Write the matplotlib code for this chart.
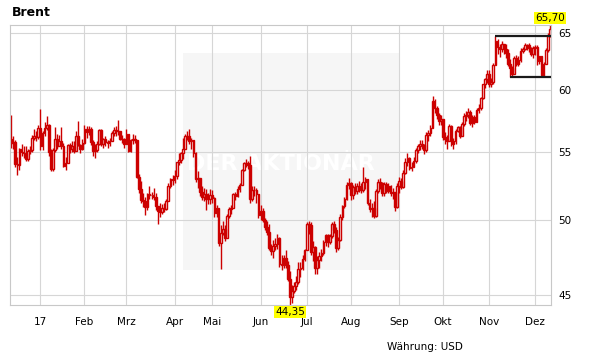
# -*- coding: utf-8 -*-

import numpy as np
import matplotlib.pyplot as plt
from matplotlib.patches import Rectangle


''' --------- Data: Brent, daily candles, 12.12.2016 - 12.12.2017 --------- '''
month_labels = ['', '17', 'Feb', 'Mrz', 'Apr', 'Mai', 'Jun', 'Jul', 'Aug', 'Sep', 'Okt', 'Nov', 'Dez']
days_per_month = [14, 21, 20, 23, 18, 23, 22, 21, 23, 21, 22, 22, 8]   # trading days shown per month

first_open = 56.0
close = [
    55.69, 55.72, 54.02, 53.99, 55.21, 55.00, 54.92, 54.46, 55.05, 55.16, 56.09, 56.22, 56.14, 56.82,  # Dez 16
    55.47, 56.46, 56.89, 57.10, 54.94, 53.64, 55.10, 56.01, 55.45, 55.86, 55.47, 53.92, 54.16, 55.49,
    55.23, 55.44, 55.08, 56.24, 55.52, 55.23, 55.70,                                                    # Jan
    56.80, 56.56, 56.81, 55.72, 55.05, 55.12, 55.63, 56.70, 55.59, 55.97, 55.75, 55.65, 55.81, 56.45,
    56.66, 56.58, 56.58, 55.99, 56.01, 55.59,                                                           # Feb
    56.36, 55.08, 55.90, 56.01, 55.92, 53.11, 52.19, 51.37, 51.35, 50.92, 51.81, 51.76, 51.76, 51.62,
    50.96, 50.64, 50.56, 50.80, 50.75, 51.33, 52.42, 52.96, 52.83,                                      # Mrz
    53.12, 54.17, 54.36, 54.89, 55.24, 56.23, 56.23, 55.86, 55.89, 54.89, 52.93, 52.99, 51.96, 51.60,
    51.82, 51.44, 51.44, 51.73,                                                                         # Apr
    51.52, 50.46, 50.79, 48.38, 49.10, 49.34, 48.73, 50.22, 50.77, 50.84, 51.82, 51.65, 52.21, 52.51,
    53.61, 54.15, 54.15, 53.96, 51.46, 52.15, 52.15, 51.84, 50.31,                                      # Mai
    50.63, 49.95, 49.47, 49.12, 48.06, 47.86, 48.15, 48.29, 48.72, 47.00, 46.92, 47.37, 46.91, 46.02,
    44.82, 45.22, 45.54, 45.83, 46.65, 46.74, 47.31, 47.92,                                             # Jun
    49.67, 49.61, 47.79, 48.11, 46.71, 47.26, 47.52, 47.74, 48.42, 48.91, 48.42, 48.84, 49.70, 49.30,
    48.06, 48.60, 50.20, 50.97, 51.49, 52.52, 52.65,                                                    # Jul
    51.78, 52.36, 52.01, 52.42, 52.37, 52.14, 52.70, 52.90, 51.20, 50.73, 50.80, 50.27, 52.03, 52.72,
    52.66, 51.87, 52.57, 52.04, 52.41, 51.89, 52.00, 50.86, 52.38,                                      # Aug
    52.75, 52.34, 53.38, 54.20, 54.49, 53.78, 53.84, 54.27, 55.16, 55.47, 55.62, 55.48, 55.14, 56.29,
    56.43, 56.86, 59.02, 58.44, 57.90, 57.41, 57.54,                                                    # Sep
    56.12, 56.00, 55.80, 57.00, 55.62, 55.79, 56.61, 56.94, 56.25, 57.17, 57.82, 57.88, 58.15, 57.24,
    57.75, 57.37, 58.33, 58.44, 59.30, 60.44, 60.90, 61.37,                                             # Okt
    60.49, 60.62, 62.07, 64.27, 63.69, 63.49, 63.93, 63.52, 63.16, 62.21, 61.87, 61.36, 62.72, 62.22,
    62.57, 63.32, 63.55, 63.86, 63.84, 63.61, 63.11, 63.57,                                             # Nov
    63.73, 62.45, 62.86, 61.22, 62.20, 63.40, 64.69, 65.30,                                             # Dez
]
high = [
    57.89, 56.20, 55.90, 54.60, 55.30, 55.60, 55.40, 55.40, 55.20, 55.40, 56.30, 56.80, 56.60, 57.10,
    58.37, 56.60, 57.30, 57.80, 57.20, 55.20, 55.30, 56.90, 56.40, 56.30, 56.90, 55.70, 54.60, 55.60,
    55.70, 55.80, 55.80, 56.60, 57.40, 55.60, 56.00,
    57.10, 57.00, 57.00, 56.90, 55.90, 55.60, 55.80, 56.80, 56.80, 56.10, 56.20, 55.90, 56.10, 56.60,
    56.90, 57.00, 57.50, 56.60, 56.30, 56.10,
    56.80, 56.40, 56.00, 56.40, 56.30, 55.90, 53.30, 52.80, 51.90, 51.60, 51.90, 52.40, 52.00, 52.30,
    51.90, 50.90, 51.20, 51.10, 51.20, 51.50, 52.60, 53.00, 53.20,
    53.60, 54.20, 54.90, 55.00, 56.10, 56.40, 56.60, 56.80, 56.10, 55.90, 55.00, 53.50, 53.00, 52.40,
    52.30, 52.20, 51.90, 52.20,
    52.10, 51.60, 51.00, 50.80, 49.60, 49.90, 49.60, 50.40, 50.90, 51.00, 51.90, 52.00, 52.40, 52.60,
    53.70, 54.20, 54.40, 54.30, 54.70, 52.40, 52.40, 52.30, 51.80,
    51.00, 50.80, 50.10, 49.90, 49.70, 48.30, 48.60, 48.70, 49.00, 48.80, 47.60, 47.60, 47.90, 47.20,
    46.50, 45.60, 45.80, 46.20, 47.10, 47.10, 47.60, 48.00,
    49.80, 49.90, 49.80, 48.50, 48.20, 47.50, 47.80, 48.00, 48.60, 49.00, 49.00, 49.00, 49.80, 49.90,
    49.50, 48.80, 50.40, 51.00, 51.60, 52.70, 53.00,
    52.70, 52.50, 52.60, 52.60, 52.80, 52.60, 53.80, 53.10, 52.90, 51.50, 51.20, 51.30, 52.20, 52.90,
    53.00, 52.70, 52.70, 52.70, 52.60, 52.50, 52.30, 52.00, 52.60,
    53.10, 53.00, 53.60, 54.50, 54.90, 54.60, 54.20, 54.60, 55.30, 55.60, 55.90, 55.90, 55.60, 56.50,
    56.70, 57.10, 59.50, 59.20, 58.60, 58.10, 57.90,
    57.60, 56.50, 56.30, 57.20, 57.10, 56.10, 56.80, 57.00, 57.00, 57.30, 58.10, 58.20, 58.50, 58.30,
    57.90, 57.90, 58.50, 58.80, 59.40, 60.50, 61.00, 61.70,
    61.70, 61.00, 62.30, 64.65, 64.40, 64.00, 64.20, 64.00, 64.00, 63.50, 62.60, 62.00, 62.90, 63.00,
    62.90, 63.60, 63.70, 64.10, 64.00, 64.10, 63.70, 63.80,
    63.90, 63.90, 62.90, 62.70, 62.40, 63.60, 65.00, 65.70,
]
low = [
    55.30, 55.20, 53.80, 53.20, 53.60, 54.70, 54.50, 54.30, 54.30, 54.80, 55.00, 55.90, 55.80, 56.00,
    55.10, 55.10, 56.20, 56.70, 54.70, 53.50, 53.50, 55.00, 55.20, 55.40, 55.20, 53.80, 53.60, 54.10,
    54.90, 55.00, 54.90, 55.10, 55.40, 54.90, 55.10,
    55.60, 56.10, 56.30, 55.50, 54.70, 54.50, 55.00, 55.50, 55.40, 55.30, 55.40, 55.30, 55.40, 55.80,
    56.20, 56.20, 56.30, 55.90, 55.70, 55.30,
    55.90, 55.00, 55.00, 55.60, 55.70, 53.00, 51.90, 51.20, 50.90, 50.30, 50.70, 51.50, 51.50, 51.40,
    50.70, 49.70, 50.20, 50.40, 50.50, 50.70, 51.30, 52.30, 52.50,
    52.60, 52.90, 54.00, 54.10, 54.40, 55.20, 55.90, 55.60, 55.20, 54.60, 52.70, 52.30, 51.70, 51.40,
    51.30, 50.70, 51.10, 51.10,
    51.20, 50.20, 50.20, 48.20, 46.64, 48.90, 48.50, 48.80, 50.10, 50.40, 50.80, 51.40, 51.60, 52.00,
    52.50, 53.50, 53.80, 53.70, 51.20, 51.30, 51.70, 51.20, 50.10,
    50.00, 49.80, 49.30, 48.90, 47.90, 47.60, 47.40, 47.90, 48.00, 46.80, 46.60, 46.70, 46.70, 45.90,
    44.35, 44.50, 45.10, 45.30, 45.70, 46.10, 46.60, 47.20,
    47.90, 49.00, 47.60, 47.20, 46.30, 46.30, 46.70, 47.20, 47.60, 48.20, 48.10, 48.30, 48.70, 49.10,
    47.80, 47.90, 48.50, 50.00, 50.80, 51.40, 52.20,
    51.40, 51.50, 51.80, 51.80, 52.00, 51.90, 52.00, 52.20, 51.00, 50.50, 50.20, 50.10, 50.20, 51.90,
    52.20, 51.70, 51.70, 51.90, 51.90, 51.70, 51.50, 50.60, 50.80,
    51.90, 52.20, 52.30, 53.30, 53.90, 53.60, 53.50, 53.80, 54.10, 54.90, 55.10, 55.20, 54.80, 55.00,
    55.80, 56.20, 57.00, 58.10, 57.60, 57.10, 57.10,
    55.90, 55.60, 55.20, 55.80, 55.40, 55.20, 55.60, 56.50, 56.10, 56.20, 57.00, 57.40, 57.70, 57.10,
    56.90, 57.20, 57.30, 58.10, 58.30, 59.20, 60.10, 60.60,
    60.20, 60.20, 60.50, 62.10, 63.10, 62.80, 63.30, 63.10, 62.70, 62.00, 61.10, 61.20, 61.30, 62.00,
    62.00, 62.40, 63.20, 63.40, 63.40, 63.30, 62.90, 62.70,
    63.00, 62.10, 62.20, 61.10, 61.20, 62.20, 63.30, 64.60,
]

y_ticks = [45, 50, 55, 60, 65]

# consolidation range drawn on the chart (Nov/Dez)
range_top, range_top_from = 64.65, ('Nov', 3)        # price, (month, n-th trading day)
range_bottom, range_bottom_from = 61.10, ('Nov', 10)

red = '#cc0000'
grid_col = '#d6d6d6'

''' --------- Candles --------- '''
n = len(close)
assert n == sum(days_per_month)
x = np.arange(n)
c = np.array(close)
o = np.r_[first_open, c[:-1]]           # open = previous settlement
body_top = np.maximum(o, c)
body_bot = np.minimum(o, c)
h = np.maximum(np.array(high), body_top)
l = np.minimum(np.array(low), body_bot)
up = c >= o

month_start = np.cumsum([0] + days_per_month[:-1])
start_of = dict(zip(month_labels[1:], month_start[1:]))

fig = plt.figure(figsize=(6.11, 3.64), dpi=100)
ax = fig.add_axes([10/611, 59/364, 541/611, 280/364])
ax.set_yscale('log')
ax.set_xlim(-0.5, n - 0.5)
ax.set_ylim(l.min(), h.max())

# watermark box
ax.add_patch(Rectangle((0.320, 0.125), 0.401, 0.775, transform=ax.transAxes,
                       facecolor='#f6f6f6', edgecolor='none', zorder=0.2))
ax.text(0.5, 0.505, 'DER AKTIONÄR', transform=ax.transAxes, ha='center', va='center',
        fontsize=16, fontweight='bold', color='white', zorder=0.3)

# wicks
ax.vlines(x, body_top, h, color=red, lw=1.0, zorder=2)
ax.vlines(x, l, body_bot, color=red, lw=1.0, zorder=2)
# bodies: hollow up days, filled down days
ax.bar(x[up], (body_top - body_bot)[up], bottom=body_bot[up], width=0.8,
       facecolor='white', edgecolor=red, lw=1.0, zorder=2)
ax.bar(x[~up], (body_top - body_bot)[~up], bottom=body_bot[~up], width=0.8,
       facecolor=red, edgecolor=red, lw=1.0, zorder=2)

# range lines
ax.hlines(range_top, start_of[range_top_from[0]] + range_top_from[1], n - 0.5,
          color='#1a1a1a', lw=1.6, zorder=3)
ax.hlines(range_bottom, start_of[range_bottom_from[0]] + range_bottom_from[1], n - 0.5,
          color='#1a1a1a', lw=1.6, zorder=3)

# high / low labels
xtrans = ax.get_xaxis_transform()
i_hi, i_lo = int(np.argmax(h)), int(np.argmin(l))
ax.annotate(f'{h[i_hi]:.2f}'.replace('.', ','), xy=(i_hi, 1), xycoords=xtrans,
            xytext=(0, 1.2), textcoords='offset points', ha='center', va='bottom',
            fontsize=7.5, bbox=dict(facecolor='#ffff00', edgecolor='none', pad=0.6),
            annotation_clip=False, zorder=5)
ax.annotate(f'{l[i_lo]:.2f}'.replace('.', ','), xy=(i_lo, 0), xycoords=xtrans,
            xytext=(0, -1.2), textcoords='offset points', ha='center', va='top',
            fontsize=7.5, bbox=dict(facecolor='#ffff00', edgecolor='none', pad=0.6),
            annotation_clip=False, zorder=5)

''' --------- Axes styling --------- '''
ax.set_xticks(month_start[1:], labels=month_labels[1:])
ax.set_yticks(y_ticks, labels=[str(v) for v in y_ticks])
ax.yaxis.set_minor_locator(plt.NullLocator())
ax.yaxis.tick_right()
ax.tick_params(axis='both', length=0, labelsize=7.5, colors='black')
ax.tick_params(axis='x', pad=8.5)
ax.tick_params(axis='y', pad=5)
ax.grid(True, color=grid_col, lw=0.8)
ax.set_axisbelow(True)
for s in ax.spines.values():
    s.set_color('#c8c8c8')
    s.set_linewidth(0.8)

fig.text(12/611, 1 - 12.5/364, 'Brent', fontsize=9, fontweight='bold', va='center', ha='left')
fig.text(387/611, 1 - 347/364, 'Währung: USD', fontsize=7.5, va='center', ha='left')

fig.savefig('out.png', dpi=100, facecolor='white')
